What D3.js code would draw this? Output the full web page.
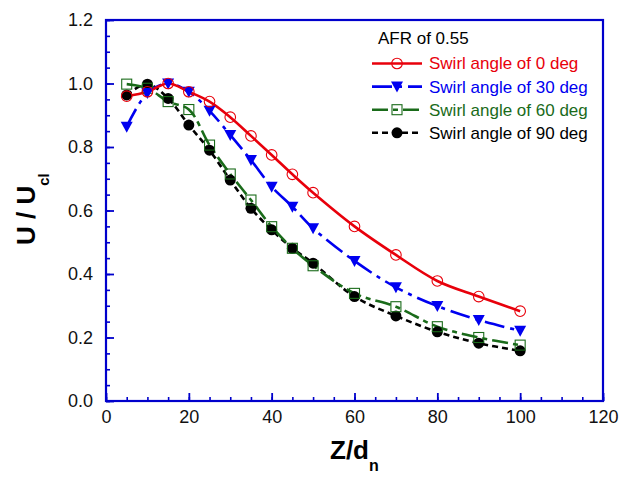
<!DOCTYPE html>
<html>
<head>
<meta charset="utf-8">
<script src="https://cdn.jsdelivr.net/npm/d3@7"></script>
<style>
  body { margin: 0; background: #fff; }
  svg { display: block; font-family: Arial, "Liberation Sans", sans-serif; }
</style>
</head>
<body>
<div id="chart"></div>
<script>
// data (Z/dn vs U/Ucl)
const zAngle0 = [5, 10, 15, 20, 25, 30, 35, 40, 45, 50, 60, 70, 80, 90, 100];
const uAngle0 = [0.96, 0.974, 1.0, 0.974, 0.943, 0.894, 0.835, 0.775, 0.714, 0.656, 0.55, 0.46, 0.378, 0.329, 0.283];

const zAngle30 = [5, 10, 15, 20, 25, 30, 35, 40, 45, 50, 60, 70, 80, 90, 100];
const uAngle30 = [0.864, 0.97, 1.0, 0.974, 0.914, 0.838, 0.759, 0.675, 0.612, 0.544, 0.441, 0.358, 0.299, 0.255, 0.221];

const zAngle60 = [5, 10, 15, 20, 25, 30, 35, 40, 45, 50, 60, 70, 80, 90, 100];
const uAngle60 = [0.998, 0.985, 0.943, 0.918, 0.806, 0.715, 0.633, 0.549, 0.481, 0.426, 0.339, 0.297, 0.234, 0.2, 0.176];

const zAngle90 = [5, 10, 15, 20, 25, 30, 35, 40, 45, 50, 60, 70, 80, 90, 100];
const uAngle90 = [0.964, 0.998, 0.953, 0.869, 0.79, 0.696, 0.607, 0.539, 0.481, 0.434, 0.329, 0.268, 0.218, 0.182, 0.158];

const seriesNames = ["Swirl angle of 0 deg", "Swirl angle of 30 deg", "Swirl angle of 60 deg", "Swirl angle of 90 deg"];
const xTicks = [0, 20, 40, 60, 80, 100, 120];
const yTicks = [0.0, 0.2, 0.4, 0.6, 0.8, 1.0, 1.2];

const width = 634, height = 477;
const margin = { top: 20, right: 31, bottom: 76, left: 106 };
const axisBlue = "#0000cc";

const svg = d3.select("#chart").append("svg")
  .attr("width", width)
  .attr("height", height);

const x = d3.scaleLinear().domain([0, 120]).range([margin.left, width - margin.right]);
const y = d3.scaleLinear().domain([0, 1.2]).range([height - margin.bottom, margin.top]);

// series styling (order = draw order, black first so red ends on top)
const series = [
  { name: seriesNames[3], z: zAngle90, u: uAngle90, color: "#000000", dash: "6,4", marker: "dot" },
  { name: seriesNames[2], z: zAngle60, u: uAngle60, color: "#1a6b1a", dash: "16,5,5,5", marker: "square" },
  { name: seriesNames[1], z: zAngle30, u: uAngle30, color: "#0000f0", dash: "20,6,4,6", marker: "triangle" },
  { name: seriesNames[0], z: zAngle0, u: uAngle0, color: "#e8000b", dash: null, marker: "circle" }
];

const line = d3.line()
  .x(d => x(d[0]))
  .y(d => y(d[1]))
  .curve(d3.curveCatmullRom.alpha(0.5));

function drawMarker(g, type, color) {
  if (type === "circle") {
    g.append("circle").attr("r", 5.3).attr("fill", "none")
      .attr("stroke", color).attr("stroke-width", 1.1);
  } else if (type === "dot") {
    g.append("circle").attr("r", 5.5).attr("fill", color);
  } else if (type === "square") {
    g.append("rect").attr("x", -5).attr("y", -5).attr("width", 10).attr("height", 10)
      .attr("fill", "none").attr("stroke", color).attr("stroke-width", 1.1);
  } else if (type === "triangle") {
    g.append("path").attr("d", "M-6,-5L6,-5L0,6Z").attr("fill", color);
  }
}

// lines
series.forEach(s => {
  svg.append("path")
    .datum(d3.zip(s.z, s.u))
    .attr("fill", "none")
    .attr("stroke", s.color)
    .attr("stroke-width", 2.6)
    .attr("stroke-dasharray", s.dash)
    .attr("d", line);
});

// markers
series.forEach(s => {
  svg.append("g").selectAll("g")
    .data(d3.zip(s.z, s.u))
    .join("g")
    .attr("transform", d => `translate(${x(d[0])},${y(d[1])})`)
    .each(function() { drawMarker(d3.select(this), s.marker, s.color); });
});

// axes: inward ticks
const gx = svg.append("g").attr("transform", `translate(0,${height - margin.bottom})`);
gx.call(d3.axisBottom(x).tickValues(d3.range(0, 121, 5)).tickSize(-4).tickFormat(""));
gx.call(g => g.selectAll(".tick line").attr("stroke", axisBlue).attr("stroke-width", 1.6));
const gx2 = svg.append("g").attr("transform", `translate(0,${height - margin.bottom})`);
gx2.call(d3.axisBottom(x).tickValues(xTicks).tickSize(-8).tickSizeOuter(0).tickPadding(9).tickFormat(d3.format("d")));

const gy = svg.append("g").attr("transform", `translate(${margin.left},0)`);
gy.call(d3.axisLeft(y).tickValues(d3.range(0, 25).map(i => i * 0.05)).tickSize(-4).tickFormat(""));
gy.call(g => g.selectAll(".tick line").attr("stroke", axisBlue).attr("stroke-width", 1.6));
const gy2 = svg.append("g").attr("transform", `translate(${margin.left},0)`);
gy2.call(d3.axisLeft(y).tickValues(yTicks).tickSize(-8).tickSizeOuter(0).tickPadding(13).tickFormat(d3.format(".1f")));

[gx, gx2, gy, gy2].forEach(g => g.select(".domain").remove());
[gx2, gy2].forEach(g => {
  g.selectAll(".tick line").attr("stroke", axisBlue).attr("stroke-width", 1.8);
  g.selectAll(".tick text").attr("fill", "#111").attr("font-size", "18px")
    .attr("font-family", "Arial, 'Liberation Sans', sans-serif");
});

// frame
svg.append("rect")
  .attr("x", margin.left).attr("y", margin.top)
  .attr("width", width - margin.left - margin.right)
  .attr("height", height - margin.top - margin.bottom)
  .attr("fill", "none").attr("stroke", axisBlue).attr("stroke-width", 2.2);

// axis titles
const xt = svg.append("text")
  .attr("x", 330).attr("y", 459)
  .attr("font-size", "26px").attr("font-weight", "bold").attr("fill", "#000");
xt.append("tspan").text("Z/d");
xt.append("tspan").attr("font-size", "16px").attr("dy", 12).text("n");

const yt = svg.append("text")
  .attr("transform", "translate(35,245) rotate(-90)")
  .attr("font-size", "26px").attr("font-weight", "bold").attr("fill", "#000");
yt.append("tspan").text("U / U");
yt.append("tspan").attr("font-size", "15px").attr("dy", 14).text("cl");

// legend
const legend = svg.append("g");
legend.append("text").attr("x", 378).attr("y", 44)
  .attr("font-size", "17px").attr("fill", "#000").text("AFR of 0.55");

const legendOrder = [series[3], series[2], series[1], series[0]];
legendOrder.forEach((s, i) => {
  const cy = 63.5 + i * 23.1;
  const row = legend.append("g");
  row.append("line")
    .attr("x1", 372).attr("x2", 422).attr("y1", cy).attr("y2", cy)
    .attr("stroke", s.color).attr("stroke-width", 2.6)
    .attr("stroke-dasharray", s.dash);
  drawMarker(row.append("g").attr("transform", `translate(397,${cy})`), s.marker, s.color);
  row.append("text").attr("x", 429).attr("y", cy).attr("dy", "0.35em")
    .attr("font-size", "17px").attr("fill", s.color).text(s.name);
});
</script>
</body>
</html>
